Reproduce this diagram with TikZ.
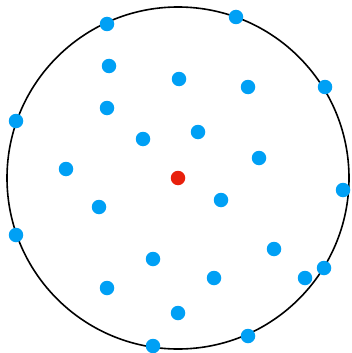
\documentclass[tikz,border=0pt]{standalone}
\definecolor{dotblue}{RGB}{0,160,245}
\definecolor{dotred}{RGB}{232,32,12}
\begin{document}
\begin{tikzpicture}[x=1pt,y=-1pt,
  bdot/.style={circle,fill=dotblue,inner sep=0pt,minimum size=14.5pt},
  rdot/.style={circle,fill=dotred,inner sep=0pt,minimum size=14.5pt}]
\useasboundingbox (0,0) rectangle (351,353);
\draw[line width=1.6pt] (178,178) circle[radius=171];
\node[rdot] (c) at (178,178) {};
\foreach \n/\x/\y in {a1/107/24, a2/109/66, a3/107/108, a4/16/121, a5/143/139, a6/66/169,
  a7/179/79, a8/236/17, a9/248/87, a10/325/87, a11/198/132, a12/259/158,
  a13/99/207, a14/16/235, a15/153/259, a16/107/288, a17/178/313, a18/153/346,
  a19/221/200, a20/343/190, a21/274/249, a22/214/278, a23/305/278, a24/324/268, a25/248/336}
  \node[bdot] (\n) at (\x,\y) {};
\end{tikzpicture}
\end{document}
